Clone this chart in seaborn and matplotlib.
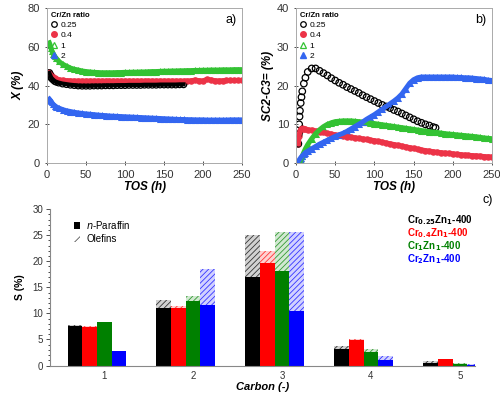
import matplotlib
matplotlib.use("Agg")
import matplotlib.pyplot as plt
import seaborn as sns
import numpy as np
import pandas as pd
from matplotlib.lines import Line2D
from matplotlib.patches import Patch

# time on stream (h), shared grid for panels a) and b)
tos = [3, 4, 5, 6, 8, 10, 12, 15, 20, 25, 30, 35, 40, 45, 50, 55, 60, 65, 70, 75,
       80, 85, 90, 95, 100, 105, 110, 115, 120, 125, 130, 135, 140, 145, 150, 155,
       160, 165, 170, 175, 180, 185, 190, 195, 200, 205, 210, 215, 220, 225, 230,
       235, 240, 245, 250]

ratios = ['0.25', '0.4', '1', '2']

# a) conversion X (%)
x_025 = [46.5, 45.5, 44.5, 43.8, 43.0, 42.3, 41.9, 41.5, 41.0, 40.7, 40.4, 40.2, 40.0,
         39.9, 39.9, 39.9, 40.0, 40.0, 40.0, 40.1, 40.1, 40.1, 40.2, 40.2, 40.2, 40.3,
         40.3, 40.3, 40.3, 40.4, 40.4, 40.4, 40.4, 40.5, 40.5, 40.5, 40.5, 40.5, 40.6, 40.6]
x_04 = [46.5, 46.0, 45.5, 45.0, 44.3, 43.8, 43.4, 43.0, 42.7, 42.5, 42.4, 42.3, 42.3,
        42.3, 42.3, 42.3, 42.3, 42.3, 42.3, 42.3, 42.3, 42.3, 42.3, 42.3, 42.3, 42.3,
        42.3, 42.3, 42.3, 42.3, 42.3, 42.3, 42.3, 42.3, 42.3, 42.3, 42.3, 42.3, 42.3,
        42.3, 42.3, 42.5, 42.8, 42.5, 42.4, 43.2, 42.9, 42.5, 42.4, 42.5, 42.6, 42.6,
        42.6, 42.6, 42.6]
x_1 = [62.0, 61.0, 59.5, 58.0, 56.5, 55.0, 54.0, 52.5, 51.0, 50.0, 49.0, 48.4, 48.0,
       47.5, 47.2, 47.0, 46.8, 46.7, 46.6, 46.6, 46.6, 46.6, 46.7, 46.7, 46.8, 46.8,
       46.9, 46.9, 47.0, 47.0, 47.1, 47.2, 47.2, 47.3, 47.4, 47.4, 47.5, 47.5, 47.6,
       47.6, 47.7, 47.7, 47.8, 47.8, 47.9, 47.9, 48.0, 48.0, 48.0, 48.1, 48.1, 48.1,
       48.2, 48.2, 48.2]
x_2 = [33.0, 32.5, 32.0, 31.3, 30.3, 29.6, 29.0, 28.4, 27.6, 27.0, 26.6, 26.2, 25.9,
       25.6, 25.4, 25.2, 25.0, 24.8, 24.6, 24.5, 24.3, 24.2, 24.1, 24.0, 23.9, 23.8,
       23.7, 23.6, 23.5, 23.4, 23.3, 23.2, 23.1, 23.0, 22.9, 22.8, 22.7, 22.6, 22.5,
       22.5, 22.4, 22.4, 22.3, 22.3, 22.3, 22.2, 22.2, 22.2, 22.2, 22.2, 22.2, 22.3,
       22.3, 22.3, 22.3]

# b) C2-C3 olefin selectivity (%)
tos_b025 = [3, 3.5, 4, 4.5, 5, 6, 7, 8, 10, 12, 15, 20, 25, 30, 35, 40, 45, 50, 55, 60,
            65, 70, 75, 80, 85, 90, 95, 100, 105, 110, 115, 120, 125, 130, 135, 140,
            145, 150, 155, 160, 165, 170, 175, 178]
s_025 = [5.0, 7.5, 10.0, 12.0, 13.5, 15.5, 17.0, 18.5, 20.5, 22.0, 23.5, 24.4, 24.4,
         23.8, 23.2, 22.6, 21.9, 21.3, 20.7, 20.2, 19.6, 19.1, 18.6, 18.1, 17.5, 17.0,
         16.5, 16.0, 15.5, 15.0, 14.6, 14.2, 13.7, 13.3, 12.8, 12.3, 11.8, 11.3, 10.8,
         10.4, 10.0, 9.7, 9.3, 9.1]
s_04 = [5.0, 7.0, 8.3, 8.8, 9.0, 8.9, 8.8, 8.6, 8.5, 8.3, 8.1, 7.9, 7.7, 7.5, 7.3,
        7.15, 7.0, 6.85, 6.7, 6.55, 6.4, 6.25, 6.1, 5.95, 5.8, 5.6, 5.4, 5.2, 5.0, 4.8,
        4.6, 4.4, 4.2, 4.0, 3.8, 3.6, 3.4, 3.25, 3.1, 2.95, 2.8, 2.7, 2.6, 2.5, 2.4,
        2.3, 2.2, 2.1, 2.0, 1.95, 1.9, 1.8, 1.7, 1.65, 1.6]
s_1 = [0.3, 0.8, 1.8, 2.8, 3.7, 4.8, 6.3, 7.6, 8.6, 9.4, 10.0, 10.4, 10.7, 10.8, 10.9,
       10.9, 10.9, 10.8, 10.7, 10.6, 10.5, 10.35, 10.2, 10.05, 9.9, 9.75, 9.6, 9.45,
       9.3, 9.15, 9.0, 8.85, 8.7, 8.55, 8.4, 8.25, 8.1, 8.0, 7.9, 7.75, 7.6, 7.5, 7.4,
       7.3, 7.2, 7.1, 7.0, 6.9, 6.8, 6.65, 6.5, 6.4, 6.3]
s_2 = [0.5, 0.8, 1.1, 1.4, 1.9, 2.3, 2.7, 3.1, 3.7, 4.3, 4.9, 5.4, 5.9, 6.4, 6.9, 7.3,
       7.7, 8.2, 8.8, 9.4, 10.0, 10.6, 11.3, 11.9, 12.5, 13.2, 13.9, 14.6, 15.3, 16.0,
       16.8, 17.8, 19.2, 20.6, 21.5, 22.0, 22.2, 22.2, 22.2, 22.2, 22.2, 22.2, 22.2,
       22.2, 22.2, 22.1, 22.1, 22.0, 22.0, 21.9, 21.8, 21.7, 21.6, 21.4, 21.3]

# c) product selectivity per carbon number
carbon = [1, 2, 3, 4, 5]
catalysts = ['Cr$_{\\mathbf{0.25}}$Zn$_{\\mathbf{1}}$-400', 'Cr$_{\\mathbf{0.4}}$Zn$_{\\mathbf{1}}$-400',
             'Cr$_{\\mathbf{1}}$Zn$_{\\mathbf{1}}$-400', 'Cr$_{\\mathbf{2}}$Zn$_{\\mathbf{1}}$-400']
paraffin = [[7.6, 11.0, 17.0, 3.1, 0.5],
            [7.4, 11.0, 19.7, 4.8, 1.2],
            [8.3, 12.4, 18.2, 2.6, 0.3],
            [2.8, 11.7, 10.5, 1.0, 0.1]]
total = [[7.7, 12.6, 25.1, 3.7, 0.8],
         [7.5, 11.5, 22.0, 5.0, 1.3],
         [8.3, 13.3, 25.7, 3.1, 0.5],
         [2.8, 18.6, 25.6, 1.8, 0.2]]

plt.rcParams['font.family'] = ['Liberation Sans', 'DejaVu Sans']
plt.rcParams['hatch.linewidth'] = 0.6

fig = plt.figure(figsize=(5, 3.96), dpi=100)
ax_a = fig.add_axes([0.094, 0.588, 0.39, 0.392])
ax_b = fig.add_axes([0.592, 0.588, 0.392, 0.392])
ax_c = fig.add_axes([0.10, 0.077, 0.85, 0.395])

cols_ts = ['black', '#ec3347', '#33c233', '#3366f0']
ms = 22

def band(ax, t, v, col, marker, s):
    # dense measurements show up as a thick band
    sns.lineplot(x=t, y=v, ax=ax, color=col, linewidth=3.6, sort=False)
    sns.scatterplot(x=t, y=v, ax=ax, color=col, marker=marker, s=s, linewidth=0)

def ts_panel(ax, series, ylim, yticks, ylabel, tag, black_band):
    (t0, v0), (t1, v1), (t2, v2), (t3, v3) = series
    band(ax, t1, v1, cols_ts[1], 'o', ms)
    band(ax, t2, v2, cols_ts[2], '^', ms + 4)
    band(ax, t3, v3, cols_ts[3], '^', ms + 4)
    if black_band:
        sns.lineplot(x=t0, y=v0, ax=ax, color='black', linewidth=3.0, sort=False)
    sns.scatterplot(x=t0, y=v0, ax=ax, facecolor='none', edgecolor='black', marker='o',
                    s=ms, linewidth=0.9)
    ax.set_xlim(0, 250)
    ax.set_ylim(*ylim)
    ax.set_xticks([0, 50, 100, 150, 200, 250])
    ax.set_yticks(yticks)
    ax.tick_params(labelsize=8, length=3, direction='inout', width=0.6, colors='#333333')
    for sp in ax.spines.values():
        sp.set_color('#aaaaaa')
        sp.set_linewidth(0.7)
    ax.set_xlabel('TOS (h)', fontsize=8.5, fontweight='bold', fontstyle='italic', labelpad=1)
    ax.set_ylabel(ylabel, fontsize=8.5, fontweight='bold', fontstyle='italic', labelpad=2)
    ax.text(0.97, 0.96, tag, transform=ax.transAxes, ha='right', va='top', fontsize=9)
    handles = [
        Line2D([], [], ls='', marker='o', mfc='none', mec='black', ms=4, mew=0.9),
        Line2D([], [], ls='', marker='o', mfc=cols_ts[1], mec=cols_ts[1], ms=4),
        Line2D([], [], ls='', marker='^', mfc='none', mec=cols_ts[2], ms=4.5, mew=0.9),
        Line2D([], [], ls='', marker='^', mfc=cols_ts[3], mec=cols_ts[3], ms=4.5),
    ]
    leg = ax.legend(handles, ratios, loc='upper left', frameon=False, fontsize=6,
                    title='Cr/Zn ratio', title_fontproperties={'size': 5.5, 'weight': 'bold'},
                    handlelength=0.8, handletextpad=0.4, labelspacing=0.3,
                    borderaxespad=0.25, borderpad=0.2)
    leg._legend_box.align = 'left'

ts_panel(ax_a, [(tos[:len(x_025)], x_025), (tos, x_04), (tos, x_1), (tos, x_2)],
         (0, 80), [0, 20, 40, 60, 80], 'X (%)', 'a)', True)
ts_panel(ax_b, [(tos_b025, s_025), (tos, s_04), (tos[2:], s_1), (tos, s_2)],
         (0, 40), [0, 10, 20, 30, 40], 'SC2-C3= (%)', 'b)', False)

# c) stacked bars: hatched olefins on top of solid n-paraffins
cols_c = ['black', '#ff0000', '#008000', '#0000ff']
bw = 0.165
offsets = [-0.33, -0.165, 0.0, 0.165]
for i in range(4):
    xpos = [c + offsets[i] for c in carbon]
    sns.barplot(x=xpos, y=total[i], ax=ax_c, native_scale=True, width=bw,
                color=cols_c[i], errorbar=None, linewidth=0)
    rgb = matplotlib.colors.to_rgb(cols_c[i])
    for p in ax_c.containers[-1]:
        p.set_facecolor((*rgb, 0.18))
        p.set_edgecolor((*rgb, 0.75))
        p.set_hatch('//////')
        p.set_linewidth(0)
    sns.barplot(x=xpos, y=paraffin[i], ax=ax_c, native_scale=True, width=bw,
                color=cols_c[i], errorbar=None, linewidth=0, saturation=1)

ax_c.set_xlim(0.39, 5.17)
ax_c.set_ylim(0, 30)
ax_c.set_xticks(carbon)
ax_c.set_xticklabels([str(c) for c in carbon])
ax_c.set_yticks([0, 5, 10, 15, 20, 25, 30])
ax_c.set_yticks(np.arange(0, 31, 1), minor=True)
ax_c.tick_params(labelsize=7, length=3, width=0.6, colors='#333333', pad=2)
ax_c.tick_params(axis='x', length=0, pad=4)
ax_c.tick_params(which='minor', length=1.5, width=0.5)
sns.despine(ax=ax_c)
for sp in ['left', 'bottom']:
    ax_c.spines[sp].set_color('#888888')
    ax_c.spines[sp].set_linewidth(0.8)
ax_c.set_xlabel('Carbon (-)', fontsize=8, fontweight='bold', fontstyle='italic', labelpad=1)
ax_c.set_ylabel('S (%)', fontsize=7.5, fontweight='bold', labelpad=5)

leg_c = ax_c.legend([Patch(facecolor='black'), Patch(facecolor='white', hatch='////', edgecolor='#555555', linewidth=0)],
                    ['$\\it{n}$-Paraffin', 'Olefins'], loc='upper left', bbox_to_anchor=(0.035, 0.995),
                    frameon=False, fontsize=7, handlelength=0.7, handleheight=0.7,
                    handletextpad=0.6, labelspacing=0.35)

for i, lab in enumerate(catalysts):
    fig.text(0.814, 0.444 - i * 0.0325, lab, color=cols_c[i], fontsize=7,
             fontweight='bold', ha='left', va='center')
fig.text(0.985, 0.495, 'c)', fontsize=9, ha='right', va='center')

fig.savefig('out.png', dpi=100)
